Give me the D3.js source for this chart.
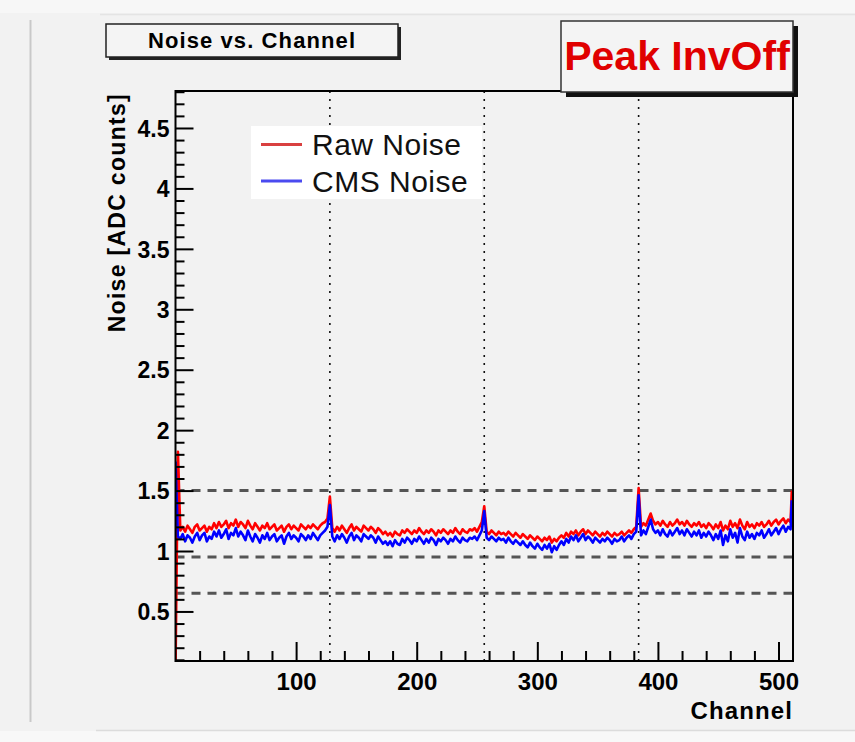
<!DOCTYPE html>
<html><head><meta charset="utf-8">
<script src="https://cdn.jsdelivr.net/npm/d3@7"></script>
<style>
html,body{margin:0;padding:0;background:#f2f2f2;}
svg{display:block;}
</style></head>
<body>
<script>
// ---------- data ----------
const channels = d3.range(0, 512, 2).concat([511]);   // channel index of each sample
const rawNoise = [
 0.00,1.82,1.17,1.20,1.16,1.21,1.18,1.15,1.20,1.22,
 1.17,1.19,1.21,1.16,1.20,1.18,1.23,1.19,
 1.24,1.20,1.22,1.25,1.19,1.23,1.21,1.26,
 1.20,1.24,1.22,1.19,1.25,1.21,1.18,1.23,
 1.20,1.17,1.21,1.19,1.23,1.18,1.20,1.22,
 1.17,1.19,1.21,1.16,1.20,1.22,1.18,1.21,
 1.19,1.17,1.22,1.20,1.18,1.21,1.19,1.22,
 1.20,1.18,1.21,1.23,1.24,1.27,
 1.45,1.19,1.16,1.20,1.17,1.21,1.18,1.15,
 1.19,1.22,1.17,1.20,1.18,1.16,1.21,1.19,
 1.17,1.20,1.18,1.15,1.19,1.17,1.14,1.16,
 1.13,1.15,1.12,1.16,1.14,1.13,1.17,1.15,
 1.18,1.16,1.14,1.17,1.15,1.19,1.16,1.14,
 1.17,1.15,1.18,1.16,1.13,1.17,1.15,1.18,
 1.16,1.14,1.17,1.15,1.19,1.16,1.14,1.18,
 1.16,1.15,1.18,1.17,1.19,1.16,1.20,1.24,
 1.37,1.16,1.14,1.17,1.15,1.13,1.16,1.14,
 1.15,1.13,1.16,1.14,1.12,1.15,1.13,1.11,
 1.14,1.12,1.10,1.13,1.11,1.09,1.12,1.10,
 1.08,1.11,1.09,1.12,1.07,1.10,1.08,1.11,
 1.13,1.11,1.15,1.12,1.16,1.14,1.17,1.13,
 1.16,1.18,1.14,1.17,1.15,1.13,1.16,1.14,
 1.12,1.15,1.13,1.16,1.14,1.12,1.15,1.13,
 1.14,1.16,1.13,1.15,1.17,1.15,1.18,1.20,
 1.52,1.20,1.23,1.21,1.26,1.31,1.25,1.22,
 1.24,1.21,1.25,1.22,1.20,1.24,1.21,1.23,
 1.26,1.22,1.24,1.21,1.25,1.22,1.20,1.23,
 1.21,1.24,1.20,1.22,1.19,1.23,1.21,1.18,
 1.22,1.19,1.24,1.17,1.21,1.18,1.25,1.20,
 1.23,1.19,1.26,1.21,1.18,1.24,1.20,1.22,
 1.19,1.23,1.21,1.24,1.20,1.22,1.25,1.21,
 1.24,1.26,1.22,1.25,1.27,1.23,1.26,1.24,
 1.50
];
const cmsNoise = [
 1.74,1.12,1.10,1.14,1.08,1.13,1.11,1.07,1.12,1.15,
 1.09,1.13,1.15,1.08,1.12,1.10,1.16,1.12,
 1.17,1.11,1.14,1.18,1.10,1.15,1.13,1.19,
 1.12,1.16,1.13,1.09,1.17,1.12,1.08,1.14,
 1.11,1.07,1.13,1.10,1.15,1.09,1.12,1.14,
 1.08,1.11,1.13,1.06,1.12,1.15,1.10,1.13,
 1.11,1.08,1.14,1.12,1.09,1.13,1.10,1.15,
 1.12,1.09,1.13,1.15,1.17,1.20,
 1.38,1.12,1.08,1.13,1.10,1.14,1.11,1.07,
 1.12,1.15,1.09,1.13,1.11,1.08,1.14,1.12,
 1.10,1.13,1.11,1.07,1.12,1.09,1.06,1.08,
 1.05,1.08,1.04,1.09,1.06,1.05,1.10,1.07,
 1.11,1.09,1.06,1.10,1.08,1.12,1.09,1.06,
 1.10,1.07,1.11,1.09,1.05,1.10,1.08,1.11,
 1.09,1.06,1.10,1.08,1.12,1.09,1.07,1.11,
 1.09,1.08,1.11,1.10,1.12,1.09,1.13,1.17,
 1.33,1.11,1.09,1.12,1.10,1.08,1.11,1.09,
 1.10,1.07,1.11,1.08,1.06,1.09,1.07,1.05,
 1.08,1.05,1.03,1.07,1.04,1.02,1.06,1.03,
 1.01,1.05,1.02,1.06,0.99,1.04,1.01,1.05,
 1.08,1.05,1.10,1.07,1.12,1.09,1.13,1.08,
 1.11,1.14,1.09,1.12,1.10,1.07,1.11,1.09,
 1.07,1.10,1.08,1.11,1.09,1.06,1.10,1.08,
 1.09,1.12,1.08,1.11,1.13,1.10,1.14,1.16,
 1.46,1.13,1.17,1.14,1.20,1.26,1.18,1.15,
 1.17,1.13,1.18,1.14,1.12,1.17,1.13,1.16,
 1.19,1.14,1.17,1.13,1.18,1.15,1.12,1.16,
 1.13,1.17,1.11,1.15,1.12,1.16,1.13,1.09,
 1.14,1.10,1.17,1.05,1.13,1.08,1.18,1.11,
 1.15,1.07,1.19,1.12,1.09,1.16,1.11,1.14,
 1.10,1.15,1.13,1.17,1.11,1.14,1.18,1.13,
 1.16,1.19,1.14,1.18,1.21,1.16,1.20,1.18,
 1.42
];
const seriesNames = ["Raw Noise", "CMS Noise"];
const seriesColors = ["#ff0000", "#0000ff"];
const xTickValues = [100, 200, 300, 400, 500];
const xTickLabels = ["100", "200", "300", "400", "500"];
const yTickValues = [0.5, 1, 1.5, 2, 2.5, 3, 3.5, 4, 4.5];
const yTickLabels = ["0.5", "1", "1.5", "2", "2.5", "3", "3.5", "4", "4.5"];
const chipBoundaries = [128, 256, 384];
const referenceLevels = [1.5, 0.95, 0.65];
const titleText = "Noise vs. Channel";
const tagText = "Peak InvOff";
const xTitle = "Channel";
const yTitle = "Noise [ADC counts]";

// ---------- layout ----------
const W = 855, H = 742;
const L = 175.5, R = 793, T = 91, B = 661;
const x = d3.scaleLinear().domain([0, 512]).range([L, R]);
const y = d3.scaleLinear().domain([0.09, 4.806]).range([B, T]);
const boldFont = "'Liberation Sans', Arial, Helvetica, sans-serif";

const svg = d3.select("body").append("svg").attr("width", W).attr("height", H);

// canvas / pad background
svg.append("rect").attr("width", W).attr("height", H).attr("fill", "#f2f2f2");
svg.append("rect").attr("x", 0).attr("y", 0).attr("width", W).attr("height", 13).attr("fill", "#f7f7f7");
svg.append("line").attr("x1", 100).attr("x2", W).attr("y1", 14.5).attr("y2", 14.5).attr("stroke", "#e4e4e4").attr("stroke-width", 1.5);
svg.append("line").attr("x1", 30.5).attr("x2", 30.5).attr("y1", 20).attr("y2", 722).attr("stroke", "#c9c9c9").attr("stroke-width", 2);
svg.append("rect").attr("x", 0).attr("y", 731).attr("width", W).attr("height", 11).attr("fill", "#f8f8f8");
svg.append("line").attr("x1", 96).attr("x2", W).attr("y1", 730.5).attr("y2", 730.5).attr("stroke", "#dcdcdc").attr("stroke-width", 1.5);

// clip
svg.append("defs").append("clipPath").attr("id", "plotclip")
  .append("rect").attr("x", L).attr("y", T).attr("width", R - L).attr("height", B - T);

const plot = svg.append("g").attr("clip-path", "url(#plotclip)");

// dashed reference levels
plot.selectAll("line.lvl").data(referenceLevels).enter().append("line")
  .attr("class", "lvl")
  .attr("x1", L).attr("x2", R)
  .attr("y1", d => y(d)).attr("y2", d => y(d))
  .attr("stroke", "#555").attr("stroke-width", 3).attr("stroke-dasharray", "9,7");

// dotted chip boundaries
plot.selectAll("line.chip").data(chipBoundaries).enter().append("line")
  .attr("class", "chip")
  .attr("x1", d => x(d)).attr("x2", d => x(d))
  .attr("y1", T).attr("y2", B)
  .attr("stroke", "#111").attr("stroke-width", 1.6).attr("stroke-dasharray", "2,6");

// data lines
const line = d3.line().x(d => x(d[0])).y(d => y(d[1]));
[rawNoise, cmsNoise].forEach((vals, k) => {
  const pts = channels.map((c, i) => [c, vals[i]]).filter(p => p[1] !== undefined);
  plot.append("path").datum(pts)
    .attr("d", line)
    .attr("fill", "none")
    .attr("stroke", seriesColors[k])
    .attr("stroke-width", 2.6)
    .attr("stroke-linejoin", "round");
});

// legend
const leg = svg.append("g");
leg.append("rect").attr("x", 251).attr("y", 126).attr("width", 231).attr("height", 73).attr("fill", "#ffffff");
const legY = [144.5, 181];
seriesNames.forEach((n, k) => {
  leg.append("line").attr("x1", 261).attr("x2", 302).attr("y1", legY[k]).attr("y2", legY[k])
    .attr("stroke", k === 0 ? "#d94040" : "#4a4af0").attr("stroke-width", 3);
  leg.append("text").attr("x", 312).attr("y", legY[k] + 10.5)
    .attr("font-family", "'Liberation Sans', Arial, sans-serif").attr("font-size", 30)
    .attr("letter-spacing", 0.5)
    .attr("fill", "#111").text(n);
});

// axes: ticks (inward)
const yMinor = d3.range(0.1, 4.81, 0.1).map(v => +v.toFixed(1)).filter(v => !yTickValues.includes(v));
const xMinor = d3.range(20, 512, 20).filter(v => !xTickValues.includes(v));

const axG = svg.append("g");
axG.append("g").attr("transform", `translate(${L},0)`)
  .call(d3.axisLeft(y).tickValues(yTickValues).tickSize(-18).tickFormat(""))
  .call(g => g.select(".domain").remove());
axG.append("g").attr("transform", `translate(${L},0)`)
  .call(d3.axisLeft(y).tickValues(yMinor).tickSize(-9).tickFormat(""))
  .call(g => g.select(".domain").remove());
axG.append("g").attr("transform", `translate(0,${B})`)
  .call(d3.axisBottom(x).tickValues(xTickValues).tickSize(-19).tickFormat(""))
  .call(g => g.select(".domain").remove());
axG.append("g").attr("transform", `translate(0,${B})`)
  .call(d3.axisBottom(x).tickValues(xMinor).tickSize(-10).tickFormat(""))
  .call(g => g.select(".domain").remove());
axG.selectAll(".tick line").attr("stroke", "#000").attr("stroke-width", 2);

// axis labels
const yLab = svg.append("g").attr("transform", `translate(${L},0)`)
  .call(d3.axisLeft(y).tickValues(yTickValues).tickSize(0).tickPadding(6)
    .tickFormat((d, i) => yTickLabels[i]));
yLab.select(".domain").remove();
yLab.selectAll("text").attr("font-family", boldFont).attr("font-weight", "bold")
  .attr("font-size", 23).attr("fill", "#000").attr("dy", "0.36em");

const xLab = svg.append("g").attr("transform", `translate(0,${B})`)
  .call(d3.axisBottom(x).tickValues(xTickValues).tickSize(0).tickPadding(12)
    .tickFormat((d, i) => xTickLabels[i]));
xLab.select(".domain").remove();
xLab.selectAll("text").attr("font-family", boldFont).attr("font-weight", "bold")
  .attr("font-size", 24).attr("fill", "#000");

// frame
svg.append("rect").attr("x", L).attr("y", T).attr("width", R - L).attr("height", B - T)
  .attr("fill", "none").attr("stroke", "#000").attr("stroke-width", 2);

// axis titles
svg.append("text").attr("x", R).attr("y", 719).attr("text-anchor", "end")
  .attr("font-family", boldFont).attr("font-weight", "bold").attr("font-size", 24)
  .attr("letter-spacing", 1.1).text(xTitle);
svg.append("text").attr("transform", "translate(125,93) rotate(-90)").attr("text-anchor", "end")
  .attr("font-family", boldFont).attr("font-weight", "bold").attr("font-size", 23)
  .attr("letter-spacing", 1.3).text(yTitle);

// title box
svg.append("rect").attr("x", 109).attr("y", 27).attr("width", 292).attr("height", 33).attr("fill", "#222");
svg.append("rect").attr("x", 106).attr("y", 24).attr("width", 292).attr("height", 33)
  .attr("fill", "#f4f4f4").attr("stroke", "#222").attr("stroke-width", 1.5);
svg.append("text").attr("x", 252).attr("y", 48).attr("text-anchor", "middle")
  .attr("font-family", boldFont).attr("font-weight", "bold").attr("font-size", 22)
  .attr("letter-spacing", 1.1).text(titleText);

// tag box
svg.append("rect").attr("x", 566).attr("y", 26).attr("width", 232).attr("height", 71).attr("fill", "#111");
svg.append("rect").attr("x", 561).attr("y", 21).attr("width", 232).attr("height", 71)
  .attr("fill", "#f4f4f4").attr("stroke", "#333").attr("stroke-width", 1.5);
svg.append("text").attr("x", 677).attr("y", 70).attr("text-anchor", "middle")
  .attr("font-family", boldFont).attr("font-weight", "bold").attr("font-size", 41)
  .attr("fill", "#e00000").text(tagText);
</script>
</body></html>
